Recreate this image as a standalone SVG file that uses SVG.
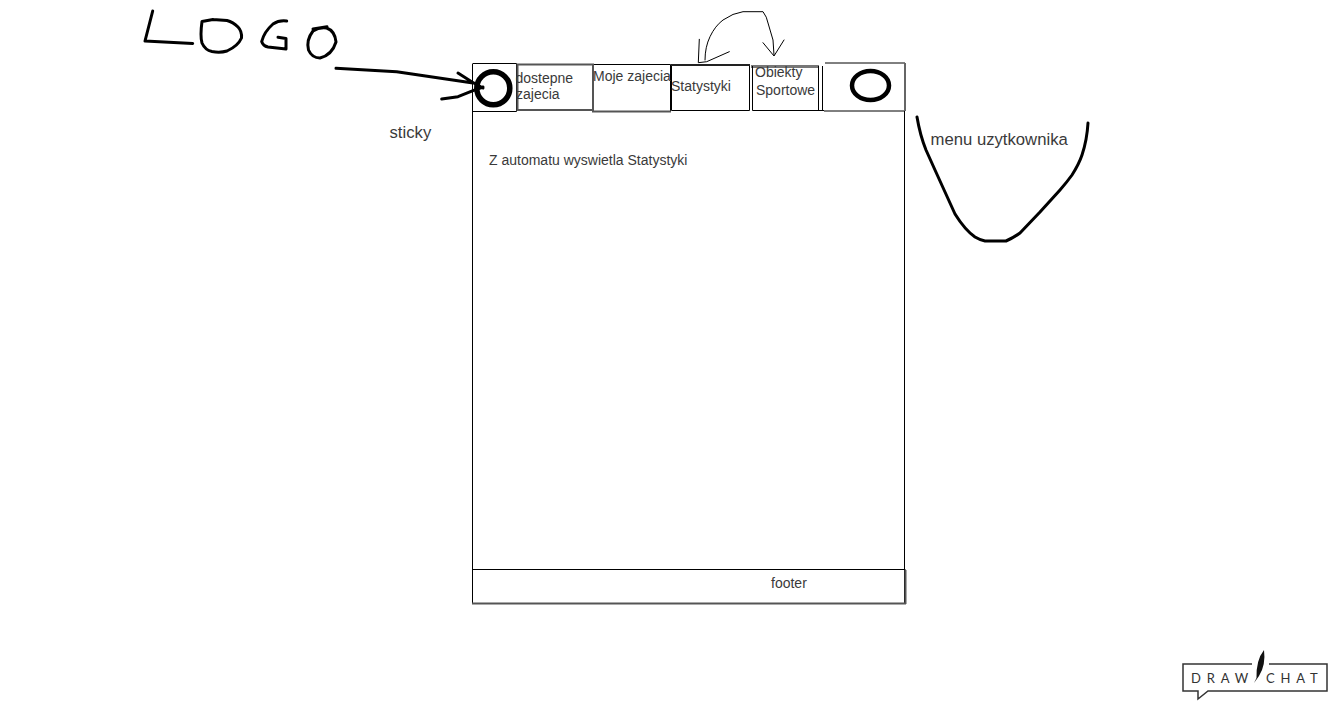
<svg xmlns="http://www.w3.org/2000/svg" width="1341" height="705" viewBox="0 0 1341 705">
<style>
.t{font-family:"Liberation Sans",Arial,sans-serif;font-size:14px;fill:#3a3a3a}
.s{font-size:16.7px}
.b{fill:none;stroke:#000;stroke-width:1}
.g{fill:none;stroke:#555;stroke-width:2}
.p{fill:none;stroke:#000;stroke-linecap:round;stroke-linejoin:round}
.p3{stroke-width:3}
.p1{stroke-width:1}
</style>
<rect width="1341" height="705" fill="#fff"/>
<g id="page"><path class="b" d="M472.500 64V604M904.500 111V604"/></g>
<g id="logo-slot"><path class="b" d="M472.500 63.500H516.500V111.500H472.500"/>
<circle cx="493.300" cy="88.300" r="16.500" fill="none" stroke="#000" stroke-width="5.500"/></g>
<g id="tab-dostepne"><rect class="g" x="517.500" y="64.500" width="75.500" height="45.500"/>
<text class="t" x="515.500" y="83">dostepne</text><text class="t" x="516" y="99">zajecia</text></g>
<g id="tab-moje"><path d="M593 64.500H670.500V111" class="b"/><path d="M593 64V111.500H671" class="g"/><text class="t" x="593" y="81">Moje zajecia</text></g>
<g id="tab-statystyki"><path d="M671.500 65H749.500V110.500H671.500V65" class="b" stroke-width="1.500"/><path d="M671 65H750" stroke="#222" stroke-width="2" fill="none"/><text class="t" x="671" y="91">Statystyki</text></g>
<g id="tab-obiekty"><path d="M751 66.500H819" stroke="#777" stroke-width="3" fill="none"/><path class="b" d="M752.500 66V110.500H824M818.500 66V110.500M822.500 66V110.500"/>
<text class="t" x="755" y="77">Obiekty</text><text class="t" x="756" y="95">Sportowe</text></g>
<g id="user-slot"><path class="b" d="M825 63H905M824 111H905"/><path d="M905 63V111" stroke="#666" stroke-width="2" fill="none"/>
<ellipse cx="870.500" cy="85.500" rx="18.500" ry="14.500" fill="none" stroke="#000" stroke-width="4.500"/></g>
<g id="footer"><path d="M472 569.500H905M472.500 569V604M905 569V604" class="b"/><path d="M472 603.500H906M905.500 570V604" stroke="#555" stroke-width="2" fill="none"/>
<text class="t" x="771" y="588">footer</text></g>
<g id="labels">
<text class="t s" x="389.500" y="138">sticky</text>
<text class="t" x="489" y="165">Z automatu wyswietla Statystyki</text>
<text class="t s" x="930.500" y="145">menu uzytkownika</text>
</g>
<g id="connectors">
<path class="p p3" d="M152.700 11L145 41L192.700 43.500"/>
<path class="p p3" d="M213 19.500L202 21.500Q200 36 202 43Q205 50 212 51.500Q220 53 227 51Q238 46 241.500 38Q242 31 238 27Q233 22 227 20.500L213 19.500"/>
<path class="p p3" d="M286.700 21Q279 20 273 24Q264 32 261.700 41.500Q263 46 268 47L286 49L286 38.500L278 37.300"/>
<path class="p p3" d="M313 29L327 26.700M313 31Q306 40 308.500 50Q312 58 320 58Q332 55 336 42Q335 31 326.700 28Q319 27 313 31"/>
<path class="p p3" d="M336 68.300L396.700 71.700L473 83M458 73L472 82L483 88M441.700 99L458 96.700L473 90.700L483 87"/>
<path class="p p1" d="M699.300 39.300L698.300 62.700L706.700 61.700L729.300 51.700M705 60Q705 47 710 36.700Q715 26 723 20Q733 13 743 11.700L763 11.700Q767 17 768 23L773 40L774 55M763 42.700L774 56L784 40"/>
<path class="p p3" d="M917 117Q920 135 926 150L935 170L945 192L955 214Q965 230 975 237Q980 240 985 241H1006Q1013 238 1020 233L1040 212L1060 190Q1067 182 1072 175Q1079 164 1082 155Q1087 140 1088 123"/>
</g>
<g id="watermark">
<path d="M1252 664H1183V691H1198V699L1208 691H1327V664H1269" fill="none" stroke="#333" stroke-width="1.500"/>
<path d="M1256.500 678Q1256 660 1264 650Q1266 665 1259 676L1254 683Z" fill="#111"/>
<text x="1191" y="683" font-family="Lato,'Liberation Sans',sans-serif" font-size="13" fill="#333" letter-spacing="5.800">DRAW</text>
<text x="1266" y="683" font-family="Lato,'Liberation Sans',sans-serif" font-size="13" fill="#333" letter-spacing="5.800">CHAT</text>
</g>
</svg>
